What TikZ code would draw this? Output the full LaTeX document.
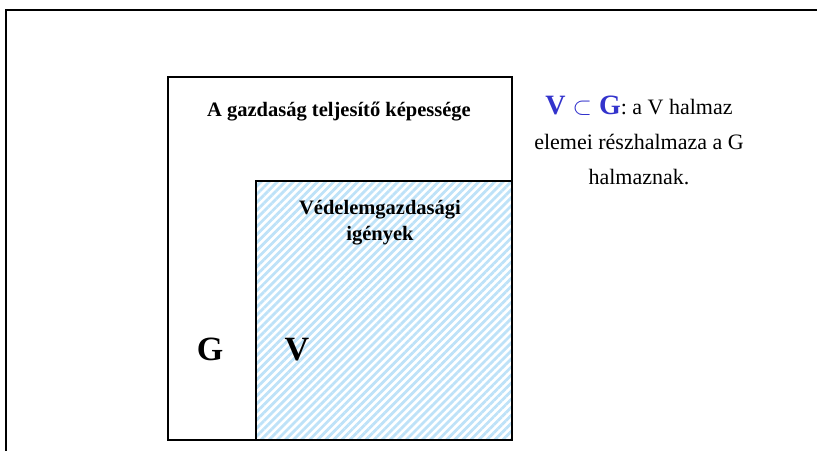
\documentclass[tikz,border=0pt]{standalone}
\usepackage{fontspec}
\setmainfont{Liberation Serif}
\usepackage{tikz}
\usetikzlibrary{positioning,patterns.meta}
\definecolor{setblue}{RGB}{51,51,204}
\definecolor{stripeblue}{RGB}{190,226,248}

\begin{document}
\begin{tikzpicture}[x=1pt, y=-1pt,
    setbox/.style={draw, line width=2.6pt, rectangle, inner sep=0pt},
    hatched/.style={pattern={Lines[angle=45,distance=5.7pt,line width=2.8pt]}, pattern color=stripeblue},
    boldlabel/.style={font=\bfseries\fontsize{20.5}{26}\selectfont, align=center},
    setletter/.style={font=\bfseries\fontsize{34}{40}\selectfont, anchor=base}]
    \useasboundingbox (0,0) rectangle (817,451);
    % frame
    \draw[line width=2.5pt] (817,10) -- (6,10) -- (6,451);
    % sets
    \node[setbox, minimum width=344pt, minimum height=363pt] (gset) at (340,258.5) {};
    \node[setbox, hatched, minimum width=256pt, minimum height=259pt, anchor=south east] (vset) at (gset.south east) {};
    % labels
    \node[boldlabel, anchor=base] (gtitle) at (339,116.5) {A gazdaság teljesítő képessége};
    \node[boldlabel] (vtitle) at (380,223) {Védelemgazdasági\\igények};
    \node[setletter] (gname) at (210,360) {G};
    \node[setletter] (vname) at (297,360) {V};
    % note
    \node[align=center, font=\fontsize{22}{35}\selectfont] (note) at (639,140)
        {{\color{setblue}\fontsize{28}{35}\selectfont\bfseries V $\subset$ G}: a V halmaz\\
         elemei részhalmaza a G\\
         halmaznak.};
\end{tikzpicture}
\end{document}
